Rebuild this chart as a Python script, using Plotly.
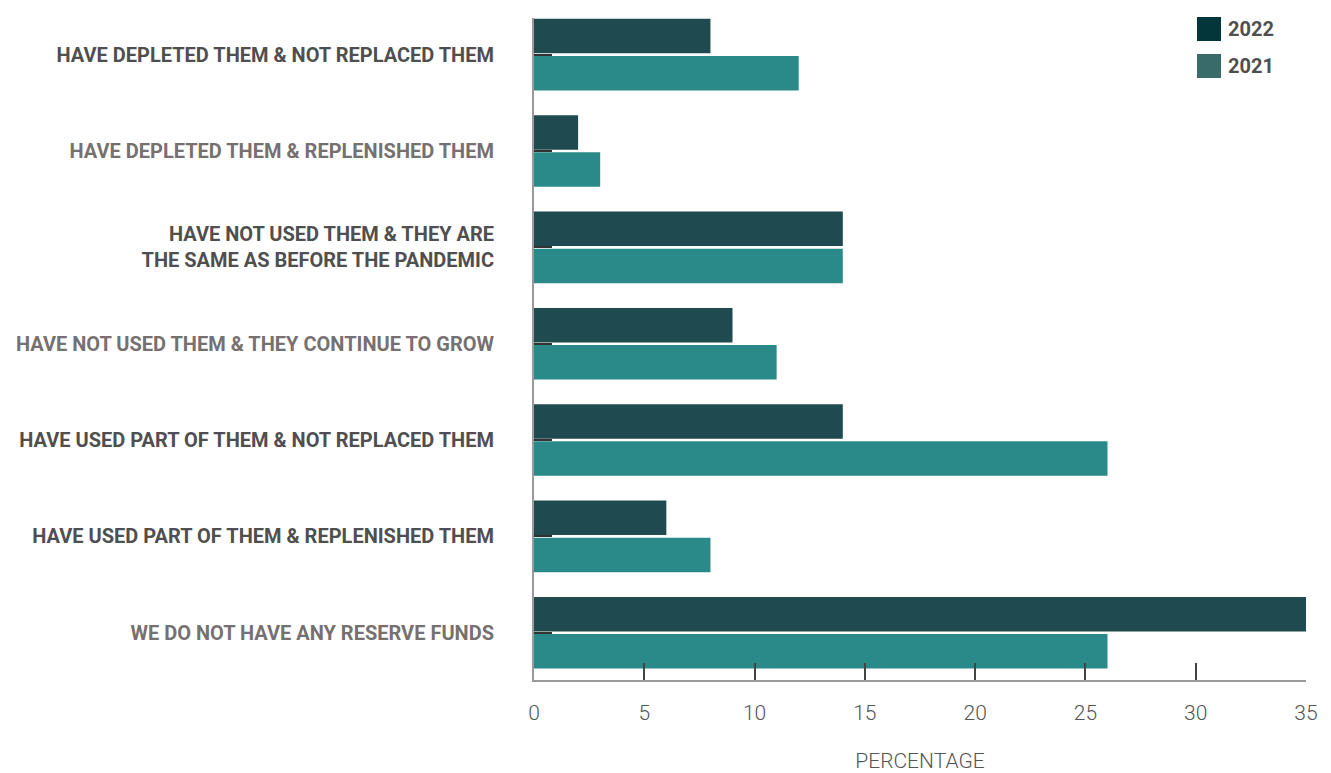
import plotly.graph_objects as go

categories = [
    "HAVE DEPLETED THEM & NOT REPLACED THEM",
    "HAVE DEPLETED THEM & REPLENISHED THEM",
    "HAVE NOT USED THEM & THEY ARE<br>THE SAME AS BEFORE THE PANDEMIC",
    "HAVE NOT USED THEM & THEY CONTINUE TO GROW",
    "HAVE USED PART OF THEM & NOT REPLACED THEM",
    "HAVE USED PART OF THEM & REPLENISHED THEM",
    "WE DO NOT HAVE ANY RESERVE FUNDS",
]
series_names = ["2022", "2021"]
values_2022 = [8, 2, 14, 9, 14, 6, 35]
values_2021 = [12, 3, 14, 11, 26, 8, 26]
x_ticks = [0, 5, 10, 15, 20, 25, 30, 35]

label_colors = ["#4f4f4f", "#767170", "#4f4f4f", "#767170", "#4f4f4f", "#4f4f4f", "#767170"]
bar_colors = ["#1f4a50", "#2a8a8a"]
legend_colors = ["#03363a", "#3a6b6b"]

ypos = list(range(len(categories)))
ticktext = [f"<span style='color:{c}'>{t}</span>" for t, c in zip(categories, label_colors)]

fig = go.Figure()
for name, vals, col in zip(series_names, [values_2022, values_2021], bar_colors):
    fig.add_trace(go.Bar(y=ypos, x=vals, orientation="h", name=name,
                         marker=dict(color=col, line=dict(width=0)), showlegend=False))

# custom legend (large square swatches, as in the reference)
W, H = 1323, 765
ML, MR, MT, MB = 526, 25, 10, 93
pw, ph = W - ML - MR, H - MT - MB
def px_x(px):
    return (px - ML) / pw
def px_y(py):
    return 1 - (py - MT) / ph

shapes, annots = [], []
for i, (name, col) in enumerate(zip(series_names, legend_colors)):
    top = 9 + i * 37
    shapes.append(dict(type="rect", xref="paper", yref="paper",
                       x0=px_x(1189), x1=px_x(1213), y0=px_y(top + 24), y1=px_y(top),
                       fillcolor=col, line=dict(width=0)))
    annots.append(dict(text=name, xref="paper", yref="paper", x=px_x(1218), y=px_y(top + 12),
                       xanchor="left", yanchor="middle", showarrow=False,
                       font=dict(size=20, color="#4f4f4f", family="Roboto, Arial, sans-serif", weight="bold")))

fig.update_layout(
    width=W, height=H,
    margin=dict(l=ML, r=MR, t=MT, b=MB, autoexpand=False),
    paper_bgcolor="white", plot_bgcolor="white",
    barmode="group", bargap=0.23, bargroupgap=0.07,
    font=dict(family="Roboto, Arial, sans-serif"),
    showlegend=False,
    shapes=shapes, annotations=annots,
    xaxis=dict(range=[0, 35], tickvals=x_ticks, ticks="inside", ticklen=17,
               tickcolor="#444", tickwidth=1.5,
               showline=True, linecolor="#9a9a9a", linewidth=2,
               showgrid=False, zeroline=False, automargin=False,
               tickfont=dict(size=21, color="#555", family="Roboto, Arial, sans-serif", weight=300),
               ticklabelstandoff=13,
               title=dict(text="PERCENTAGE", standoff=45,
                          font=dict(size=21, color="#555", family="Roboto, Arial, sans-serif", weight=300))),
    yaxis=dict(range=[6.49, -0.38], tickvals=ypos, ticktext=ticktext,
               ticks="inside", ticklen=18, tickcolor="#333", tickwidth=2,
               showline=True, linecolor="#9a9a9a", linewidth=2,
               showgrid=False, zeroline=False, ticklabelstandoff=34, automargin=False,
               tickfont=dict(size=20, family="Roboto, Arial, sans-serif", weight="bold")),
)

fig.write_html("out.html")
